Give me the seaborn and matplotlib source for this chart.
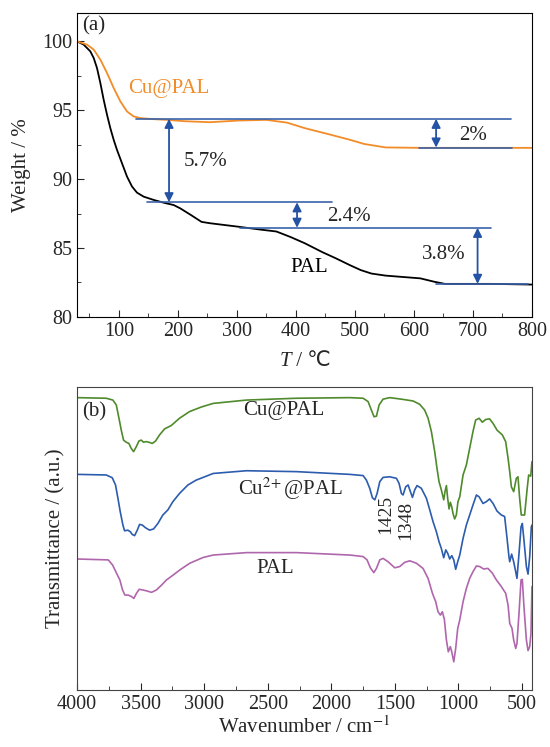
import numpy as np
import pandas as pd
import matplotlib.pyplot as plt
import seaborn as sns
from matplotlib.ticker import MultipleLocator

# ---- (a) TGA data ----
pal_temp = [29, 40.3, 51.6, 57.3, 62.9, 68.6, 74.2, 79.9, 85.5, 91.2, 96.8, 105.3, 113.8,
            122.3, 130.7, 142, 159, 175.9, 192.9, 204, 222, 240, 254.5,
            302, 338, 367, 391, 415, 445, 468, 492, 510, 528, 552, 611, 635, 652.6, 730, 800]
pal_weight = [100, 99.76, 99.27, 98.79, 98.06, 96.97, 95.76, 94.67, 93.7, 92.85, 92.12,
              91.15, 90.18, 89.46, 89.02, 88.73, 88.49, 88.29, 88.12, 87.88, 87.4,
              86.9, 86.8, 86.55, 86.35, 86.2, 85.8, 85.35, 84.7, 84.25, 83.75, 83.4, 83.15,
              83.0, 82.8, 82.55, 82.4, 82.4, 82.35]
cu_temp = [29, 46, 57.3, 68.6, 79.9, 91.2, 102.5, 113.8, 125.1, 136.4, 159, 181.6, 213,
           254.5, 302, 350, 385, 415, 456.5, 492, 516, 552, 611, 800]
cu_weight = [100, 99.76, 99.4, 98.67, 97.7, 96.61, 95.64, 94.91, 94.55, 94.43, 94.35, 94.3,
             94.2, 94.13, 94.25, 94.3, 94.1, 93.7, 93.25, 92.85, 92.55, 92.3, 92.27, 92.27]

# guide lines: level, start, end
guide_level = [94.38, 92.29, 88.32, 86.47, 82.4]
guide_start = [128.5, 608, 147.5, 305, 638]
guide_end = [765.5, 767, 461, 731.6, 794]
# arrows: x, lower, upper, label, label x, label y
arrow_x = [185, 402, 708, 637.7]
arrow_lo = [88.32, 86.47, 82.4, 92.29]
arrow_hi = [94.38, 88.32, 86.47, 94.38]
arrow_text = ["5.7%", "2.4%", "3.8%", "2%"]
arrow_text_x = [210, 453, 614, 676]
arrow_text_y = [91.3, 87.3, 84.5, 93.2]

# ---- (b) FTIR data (arbitrary units) ----
green_wn = [4001, 3770, 3718, 3691, 3670, 3652, 3634, 3613, 3592, 3574, 3555, 3534, 3513,
            3495, 3477, 3456, 3435, 3408, 3382, 3351, 3311, 3259, 3194, 3115, 3023, 2929,
            2667, 2274, 1855, 1750, 1711, 1685, 1664, 1645, 1624, 1593, 1541, 1449, 1357,
            1305, 1266, 1239, 1213, 1187, 1169, 1153, 1135, 1116, 1106, 1095, 1085, 1074,
            1064, 1053, 1043, 1030, 1017, 1004, 990, 964, 938, 912, 886, 865, 838, 812, 786,
            755, 728, 697, 655, 629, 610, 597, 584, 566, 545, 532, 519, 506, 480, 461, 448,
            432, 422]
green_tr = [96.4, 96.2, 95.6, 94.0, 89.6, 85.7, 82.4, 81.7, 81.3, 79.7, 78.6, 80.2, 82.1,
            82.4, 81.7, 81.9, 81.7, 81.3, 82.1, 84.1, 86.1, 87.2, 89.6, 91.8, 93.3, 94.5,
            95.6, 96.2, 96.4, 96.2, 95.1, 92.3, 90.1, 90.3, 94.0, 95.9, 96.4, 95.9, 95.3,
            94.2, 92.3, 89.6, 85.2, 78.6, 73.1, 68.7, 66.0, 62.7, 65.4, 67.4, 63.2, 59.7,
            61.9, 60.4, 58.2, 56.4, 57.7, 62.1, 63.7, 70.9, 74.2, 79.7, 85.2, 89.0, 89.6,
            88.3, 89.2, 89.4, 87.9, 85.7, 84.1, 81.9, 76.4, 72.0, 67.0, 65.4, 69.8, 70.3,
            63.2, 57.7, 57.7, 65.9, 70.9, 70.5, 75.3]

blue_wn = [4001, 3770, 3723, 3697, 3678, 3660, 3639, 3626, 3600, 3581, 3566, 3547, 3526,
           3508, 3487, 3461, 3429, 3398, 3364, 3325, 3285, 3246, 3194, 3128, 3063, 2929,
           2667, 2274, 1855, 1750, 1724, 1698, 1677, 1658, 1640, 1619, 1593, 1541, 1488,
           1467, 1449, 1436, 1415, 1396, 1378, 1362, 1344, 1326, 1292, 1252, 1226, 1200,
           1174, 1153, 1135, 1116, 1100, 1085, 1069, 1053, 1037, 1022, 1006, 990, 964, 938,
           912, 886, 859, 838, 807, 781, 755, 728, 697, 663, 637, 618, 603, 597, 582, 566,
           550, 540, 524, 508, 498, 485, 466, 453, 440, 427, 422]
blue_tr = [71.1, 70.9, 70.0, 67.6, 63.2, 58.8, 54.4, 52.5, 52.7, 52.2, 51.3, 50.9, 52.7,
           54.6, 54.4, 53.5, 52.7, 53.1, 54.9, 57.7, 59.4, 62.1, 64.8, 67.6, 69.2, 71.4,
           72.3, 72.0, 71.1, 70.7, 69.2, 66.5, 63.4, 62.7, 64.8, 68.7, 70.1, 70.3, 69.8,
           68.1, 64.8, 64.3, 67.0, 67.6, 65.4, 63.5, 66.0, 67.4, 66.5, 63.2, 59.4, 55.5,
           52.2, 48.9, 46.7, 43.6, 46.2, 45.1, 43.2, 44.3, 42.9, 39.8, 42.3, 44.5, 50.0,
           54.4, 57.7, 61.0, 64.3, 63.7, 61.5, 62.1, 63.0, 61.5, 59.0, 57.7, 57.2, 50.0,
           43.9, 42.3, 44.8, 42.3, 39.0, 36.8, 45.0, 53.8, 54.9, 49.4, 40.7, 38.2, 43.9,
           53.8, 54.4]

pink_wn = [4003, 3754, 3720, 3689, 3663, 3642, 3623, 3597, 3571, 3553, 3532, 3511, 3485,
           3453, 3414, 3375, 3335, 3296, 3244, 3191, 3113, 3008, 2929, 2667, 2274, 1855,
           1750, 1719, 1693, 1666, 1645, 1619, 1593, 1554, 1501, 1462, 1423, 1383, 1331,
           1279, 1239, 1205, 1179, 1161, 1142, 1127, 1111, 1095, 1080, 1064, 1053, 1037,
           1022, 1006, 990, 964, 938, 912, 886, 859, 833, 802, 768, 733, 702, 663, 629, 610,
           597, 579, 566, 550, 540, 524, 508, 498, 485, 466, 453, 440, 430, 422]
pink_tr = [43.2, 42.9, 41.2, 38.5, 36.3, 33.0, 31.3, 31.3, 30.8, 30.2, 31.9, 33.2, 33.0,
           32.7, 32.2, 33.0, 34.6, 36.3, 37.9, 39.6, 41.8, 43.7, 44.5, 45.3, 45.3, 44.5,
           44.0, 42.9, 40.3, 38.7, 40.1, 42.9, 43.4, 42.3, 40.3, 40.7, 42.1, 42.6, 41.8,
           40.1, 36.8, 31.9, 29.1, 25.8, 24.7, 25.8, 23.3, 16.5, 12.6, 14.3, 12.6, 9.3,
           13.7, 20.3, 23.1, 29.1, 33.5, 36.8, 39.0, 40.9, 40.7, 39.9, 40.1, 38.5, 36.3,
           34.1, 31.9, 28.0, 22.0, 20.3, 16.5, 13.7, 15.4, 25.3, 36.3, 36.5, 27.5, 16.5,
           13.0, 14.3, 18.7, 34.1]

sns.set_style("ticks")
plt.rcParams['font.family'] = ['Liberation Serif', 'DejaVu Sans']
plt.rcParams['mathtext.fontset'] = 'stix'
plt.rcParams['font.size'] = 14.5

fig = plt.figure(figsize=(5.5, 7.47), dpi=100)
ax1 = fig.add_axes([0.14, 0.5757, 0.827, 0.407])
ax2 = fig.add_axes([0.14, 0.0763, 0.827, 0.406])

# ---- panel (a) ----
tga = pd.concat([
    pd.DataFrame({"T": pal_temp, "W": pal_weight, "s": "PAL"}),
    pd.DataFrame({"T": cu_temp, "W": cu_weight, "s": "Cu@PAL"}),
])
sns.lineplot(data=tga, x="T", y="W", hue="s", palette={"PAL": "black", "Cu@PAL": "#f28c28"},
             estimator=None, sort=True, lw=1.3, legend=False, ax=ax1)

line_blue = "#3a62aa"
for lvl, x0, x1 in zip(guide_level, guide_start, guide_end):
    ax1.plot([x0, x1], [lvl, lvl], color=line_blue, lw=1.2)
for x, lo, hi, txt, tx, ty in zip(arrow_x, arrow_lo, arrow_hi, arrow_text, arrow_text_x, arrow_text_y):
    ax1.annotate("", xy=(x, lo), xytext=(x, hi),
                 arrowprops=dict(arrowstyle="<|-|>", color="#2452a4", lw=1.3,
                                 mutation_scale=13, shrinkA=0, shrinkB=0))
    ax1.text(tx, ty, txt, fontsize=15, va="center", ha="left")

ax1.text(115, 96.6, "Cu@PAL", color="#f28c28", fontsize=15, va="center")
ax1.text(391, 83.6, "PAL", color="black", fontsize=15, va="center")
ax1.text(37, 101.1, "(a)", fontsize=15, va="center")

ax1.set_xlim(29, 800)
ax1.set_ylim(80, 102.06)
ax1.xaxis.set_major_locator(MultipleLocator(100))
ax1.xaxis.set_minor_locator(MultipleLocator(50))
ax1.yaxis.set_major_locator(MultipleLocator(5))
ax1.yaxis.set_minor_locator(MultipleLocator(2.5))
ax1.tick_params(which="both", direction="in", top=False, right=False, labelsize=14.5)
ax1.tick_params(which="major", length=5)
ax1.tick_params(which="minor", length=3)
ax1.set_xlabel("")
# x label: italic T followed by " / ℃" (plain text so the ℃ glyph can fall back)
ax1.text(0.47, -0.148, "T", style="italic", fontsize=15, ha="right", va="center",
         transform=ax1.transAxes)
ax1.text(0.47, -0.148, " / ℃", fontsize=15, ha="left", va="center",
         transform=ax1.transAxes, family=['Liberation Serif', 'DejaVu Sans'])
ax1.set_ylabel("Weight / %", fontsize=15, labelpad=8)

# ---- panel (b) ----
ftir = pd.concat([
    pd.DataFrame({"wn": green_wn, "tr": green_tr, "s": "Cu@PAL"}),
    pd.DataFrame({"wn": blue_wn, "tr": blue_tr, "s": "Cu2+@PAL"}),
    pd.DataFrame({"wn": pink_wn, "tr": pink_tr, "s": "PAL"}),
])
sns.lineplot(data=ftir, x="wn", y="tr", hue="s",
             palette={"Cu@PAL": "#4f8a2c", "Cu2+@PAL": "#2c5cae", "PAL": "#b066ac"},
             estimator=None, sort=True, lw=1.2, legend=False, ax=ax2)

ax2.text(2374, 92.3, "Cu@PAL", fontsize=15, ha="center", va="center")
ax2.text(2324, 66.5, "Cu$^{2\\!+}$@PAL", fontsize=15, ha="center", va="center")
ax2.text(2443, 40.1, "PAL", fontsize=15, ha="center", va="center")
ax2.text(3868, 91.8, "(b)", fontsize=15, ha="center", va="center")
ax2.text(1572, 58.0, "1425", fontsize=14, rotation=90, ha="center", va="center")
ax2.text(1417, 55.8, "1348", fontsize=14, rotation=90, ha="center", va="center")

ax2.set_xlim(4000, 423)
ax2.set_ylim(0, 100)
ax2.xaxis.set_major_locator(MultipleLocator(500))
ax2.xaxis.set_minor_locator(MultipleLocator(250))
ax2.set_yticks([])
ax2.tick_params(which="both", direction="in", top=False, right=False, labelsize=14.5)
ax2.tick_params(which="major", length=5)
ax2.tick_params(which="minor", length=3)
ax2.set_xlabel("Wavenumber / cm$^{-1}$", fontsize=15, labelpad=2)
ax2.set_ylabel("Transmittance / (a.u.)", fontsize=15, labelpad=8)
for sp in ax2.spines.values():
    sp.set_color("#444444")
for sp in ax1.spines.values():
    sp.set_color("black")

fig.savefig("out.png", dpi=100)
